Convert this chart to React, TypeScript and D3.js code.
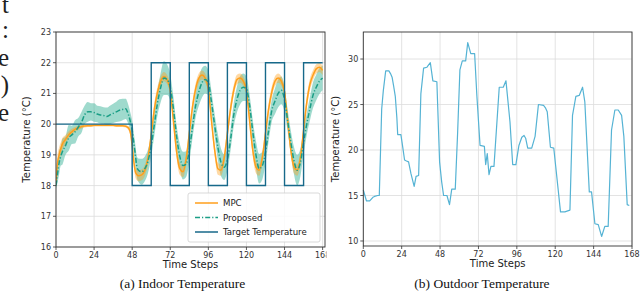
import React from 'react';
import * as d3 from 'd3';

// ---------- data ----------
const steps = [0,1,2,3,4,6,8,10,12,14,16,18,20,22,24,26,28,30,32,34,36,38,40,42,44,45,46,47,48,49,50,51,52,
  54,56,58,60,62,64,66,68,70,72,74,76,78,80,82,84,86,88,90,92,94,96,98,100,102,104,106,108,110,112,
  114,116,118,120,122,124,126,128,130,132,134,136,138,140,142,144,146,148,150,152,154,156,158,160,162,164,166,168];

const mpc = [18.05,18.75,19.0,19.2,19.35,19.5,19.65,19.75,19.83,19.88,19.92,19.94,19.95,19.95,19.96,19.96,19.96,19.96,19.96,19.96,19.96,19.95,19.95,19.95,19.93,19.9,19.85,19.7,19.3,18.8,18.45,18.35,18.32,
  18.35,18.5,18.9,19.65,20.5,21.05,21.4,21.55,21.45,21.1,
  20.1,19.1,18.55,18.45,18.85,19.7,20.55,21.15,21.5,21.6,
  21.5,21.15,20.1,19.15,18.55,18.5,18.9,19.7,20.5,21.1,
  21.45,21.5,21.4,21.1,20.1,19.15,18.6,18.5,18.9,19.7,
  20.5,21.05,21.4,21.5,21.4,21.05,20.1,19.15,18.6,18.5,
  18.9,19.8,20.7,21.3,21.6,21.8,21.85,21.75];

const mpcSpread = [0.05,0.25,0.25,0.2,0.2,0.15,0.12,0.1,0.08,0.07,0.06,0.05,0.04,0.04,0.04,0.04,0.04,0.04,0.04,0.04,0.04,0.04,0.04,0.04,0.04,0.05,0.08,0.12,0.15,0.18,0.18,0.18,0.18,
  0.18,0.18,0.2,0.2,0.2,0.18,0.16,0.15,0.15,0.16,
  0.18,0.2,0.2,0.18,0.2,0.2,0.2,0.18,0.16,0.15,
  0.15,0.16,0.18,0.2,0.2,0.18,0.2,0.2,0.2,0.18,
  0.16,0.15,0.15,0.16,0.18,0.2,0.2,0.18,0.2,0.2,
  0.2,0.18,0.16,0.15,0.15,0.16,0.18,0.2,0.2,0.18,
  0.2,0.2,0.2,0.18,0.16,0.15,0.15,0.15];

const proposed = [18.0,18.4,18.75,18.95,19.1,19.3,19.55,19.65,19.75,19.9,20.05,20.3,20.4,20.4,20.38,20.33,20.3,20.28,20.25,20.3,20.35,20.4,20.45,20.48,20.5,20.4,20.25,20.05,19.8,19.4,19.0,18.6,18.5,
  18.45,18.55,18.8,19.3,20.0,20.7,21.2,21.5,21.45,21.2,
  20.5,19.6,18.95,18.65,18.7,19.15,19.9,20.6,21.05,21.35,
  21.45,21.35,20.7,19.95,19.25,18.75,18.6,18.85,19.5,20.3,
  20.8,21.1,21.2,21.15,20.6,19.75,19.0,18.55,18.65,19.1,
  19.8,20.45,20.75,21.0,21.1,20.8,20.1,19.4,18.8,18.5,
  18.75,19.4,20.0,20.5,20.95,21.2,21.4,21.5];

const proposedSpread = [0.1,0.3,0.38,0.3,0.42,0.3,0.42,0.3,0.38,0.3,0.34,0.3,0.32,0.28,0.3,0.27,0.28,0.27,0.29,0.3,0.31,0.33,0.36,0.35,0.33,0.32,0.3,0.3,0.32,0.32,0.33,0.35,0.38,
  0.42,0.4,0.38,0.35,0.35,0.4,0.48,0.55,0.5,0.42,
  0.38,0.36,0.4,0.45,0.42,0.38,0.36,0.38,0.45,0.48,
  0.45,0.4,0.36,0.36,0.42,0.45,0.42,0.36,0.35,0.38,
  0.42,0.46,0.45,0.4,0.36,0.38,0.45,0.48,0.45,0.38,
  0.35,0.36,0.42,0.45,0.45,0.4,0.36,0.38,0.45,0.5,
  0.45,0.38,0.35,0.38,0.42,0.42,0.42,0.4];

// target setpoint: [start step, value]
const targetSteps = [0,48,60,72,84,96,108,120,132,144,156,168];
const targetValues = [20,18,22,18,22,18,22,18,22,18,22,22];

// outdoor temperature: [step, value]
const outdoor: [number, number][] = [
  [0,15.6],[1,15.0],[2,14.4],[4,14.4],[6,14.8],[7,14.9],[9,15.0],[10,15.0],[11.5,24.5],[12.5,26.5],[14,28.7],[16,28.7],[17,28.4],[18,28.0],[19,27.0],[20,25.9],[21,23.5],[21.5,21.7],[23.5,21.7],[24.5,20.5],[25.8,18.9],[27,18.8],[28.3,18.7],[29.8,17.4],[31.8,16.0],[33,17.1],[34.6,17.2],[36,26.2],[37.7,29.0],[39.8,29.1],[41.9,29.6],[43.5,27.6],[46,27.5],[47.7,18.7],[49,16.5],[50.2,15.0],[52.3,15.0],[53.9,14.0],[55.3,15.7],[57.5,15.7],[59,22],[60.4,28.8],[61.9,29.8],[64,29.8],[65.3,31.8],[67.2,30.6],[69.6,30.6],[71,26],[73,20.5],[75.7,20.4],[76.5,18.4],[77.5,19.6],[78.6,17.3],[79.8,18.2],[81.7,18.2],[85,26.9],[87.5,26.9],[89.2,27.6],[91.7,23.1],[93.4,18.4],[95.4,18.4],[97.3,20.5],[99.1,21.4],[100.5,21.6],[101.5,21.3],[102.8,20.2],[105.3,20.2],[107.4,21.5],[109.5,25],[112.7,24.9],[114,24.6],[115,24.2],[117,20.3],[119.1,20.2],[121.2,16.7],[123.3,13.2],[126,13.2],[129.2,13.4],[130.8,23.8],[132.9,25.9],[135,26],[137.1,26.9],[138.5,25.3],[141.3,15.4],[142.7,15.4],[144.8,11.9],[146.9,11.8],[149,10.5],[151,11.6],[153.1,11.6],[155.2,22.2],[157.3,24.4],[159.4,24.4],[161.5,23.8],[162.9,21.5],[165,14],[166.3,13.9]
];

const xTicks = [0,24,48,72,96,120,144,168];
const indoorYTicks = [16,17,18,19,20,21,22,23];
const outdoorYTicks = [10,15,20,25,30];
const legendLabels = ['MPC','Proposed','Target Temperature'];
const marginText = ['t', ':', 'e', ')', 'e'];

// ---------- styles ----------
const SANS = 'DejaVu Sans, sans-serif';
const SERIF = 'Liberation Serif, Times New Roman, serif';
const C_MPC = '#ff9f1c';
const C_PROP = '#1b9e86';
const C_PROP_BAND = '#3fb59c';
const C_TARGET = '#17698a';
const C_OUT = '#55b3d4';
const C_GRID = '#dcdcdc';
const C_TEXT = '#333';

function Axes({x, y, yTicks, xLabel, yLabel, yLabelX}: any) {
  const [x0, x1] = x.range();
  const [y0, y1] = y.range();
  return (
    <g>
      {xTicks.map(t => <line key={'gx'+t} x1={x(t)} x2={x(t)} y1={y1} y2={y0} stroke={C_GRID} strokeWidth={0.8} />)}
      {yTicks.map((t: number) => <line key={'gy'+t} x1={x0} x2={x1} y1={y(t)} y2={y(t)} stroke={C_GRID} strokeWidth={0.8} />)}
    </g>
  );
}

function Frame({x, y, yTicks, yLabelX}: any) {
  const [x0, x1] = x.range();
  const [y0, y1] = y.range();
  const cx = (x0 + x1) / 2;
  const cy = (y0 + y1) / 2;
  return (
    <g fontFamily={SANS} fill={C_TEXT}>
      <rect x={x0} y={y1} width={x1 - x0} height={y0 - y1} fill="none" stroke="#333" strokeWidth={0.9} />
      {xTicks.map(t => (
        <g key={'tx'+t}>
          <line x1={x(t)} x2={x(t)} y1={y0} y2={y0 + 3} stroke="#333" strokeWidth={0.8} />
          <text x={x(t)} y={y0 + 11} fontSize={8} textAnchor="middle">{t}</text>
        </g>
      ))}
      {yTicks.map((t: number) => (
        <g key={'ty'+t}>
          <line x1={x0 - 3} x2={x0} y1={y(t)} y2={y(t)} stroke="#333" strokeWidth={0.8} />
          <text x={x0 - 5} y={y(t) + 3} fontSize={8} textAnchor="end">{t}</text>
        </g>
      ))}
      <text x={cx} y={y0 + 21} fontSize={10} textAnchor="middle" fill="#222">Time Steps</text>
      <text transform={`translate(${yLabelX},${cy}) rotate(-90)`} fontSize={10} textAnchor="middle" fill="#222">Temperature (°C)</text>
    </g>
  );
}

export default function App() {
  const W = 640, H = 292;
  // left panel
  const xL = d3.scaleLinear().domain([0, 169.5]).range([56, 325]);
  const yL = d3.scaleLinear().domain([16, 23]).range([247, 32]);
  // right panel
  const xR = d3.scaleLinear().domain([0, 168]).range([363.3, 632]);
  const yR = d3.scaleLinear().domain([9.45, 32.97]).range([246, 32]);

  const idx = steps.map((_, i) => i);
  const bandMpc = d3.area<number>().x(i => xL(steps[i])).y0(i => yL(mpc[i] - mpcSpread[i])).y1(i => yL(mpc[i] + mpcSpread[i])).curve(d3.curveMonotoneX);
  const bandProp = d3.area<number>().x(i => xL(steps[i])).y0(i => yL(proposed[i] - proposedSpread[i])).y1(i => yL(proposed[i] + proposedSpread[i])).curve(d3.curveMonotoneX);
  const lineMpc = d3.line<number>().x(i => xL(steps[i])).y(i => yL(mpc[i])).curve(d3.curveMonotoneX);
  const lineProp = d3.line<number>().x(i => xL(steps[i])).y(i => yL(proposed[i])).curve(d3.curveMonotoneX);
  const targetPts: [number, number][] = targetSteps.map((s, i) => [s, targetValues[i]]);
  const lineTarget = d3.line<[number, number]>().x(d => xL(d[0])).y(d => yL(d[1])).curve(d3.curveStepAfter);
  const lineOut = d3.line<[number, number]>().x(d => xR(d[0])).y(d => yR(d[1]));

  const legX = 188, legY = 193;
  return (
    <svg width={W} height={H} style={{position: 'absolute', left: 0, top: 0, background: '#fff'}}>
      <defs>
        <clipPath id="leftPanel"><rect x={0} y={0} width={326.5} height={H} /></clipPath>
        <clipPath id="plotL"><rect x={56} y={32} width={269} height={215} /></clipPath>
      </defs>
      {/* cropped text of the page on the left */}
      <g fontFamily={SERIF} fontSize={25} fill="#222">
        {marginText.map((s, i) => (
          <text key={i} x={9} y={[13, 38, 66, 93, 121][i]} textAnchor="end">{s}</text>
        ))}
      </g>

      {/* left panel */}
      <g clipPath="url(#leftPanel)">
        <Axes x={xL} y={yL} yTicks={indoorYTicks} />
        <g clipPath="url(#plotL)">
          <path d={bandProp(idx) || ''} fill={C_PROP_BAND} opacity={0.5} />
          <path d={bandMpc(idx) || ''} fill={C_MPC} opacity={0.4} />
          <path d={lineMpc(idx) || ''} fill="none" stroke={C_MPC} strokeWidth={1.5} />
          <path d={lineProp(idx) || ''} fill="none" stroke={C_PROP} strokeWidth={1.5} strokeDasharray="5,2,1.2,2" />
          <path d={lineTarget(targetPts) || ''} fill="none" stroke={C_TARGET} strokeWidth={1.4} />
        </g>
        <Frame x={xL} y={yL} yTicks={indoorYTicks} yLabelX={30} />
        {/* legend */}
        <g fontFamily={SANS} fontSize={8.6} fill="#222">
          <rect x={legX} y={legY} width={132} height={49} rx={2} fill="#fff" fillOpacity={0.85} stroke="#cfcfcf" strokeWidth={0.8} />
          {legendLabels.map((lab, i) => {
            const yy = legY + 10 + i * 14.5;
            const stroke = i === 0 ? C_MPC : i === 1 ? C_PROP : C_TARGET;
            return (
              <g key={lab}>
                <line x1={legX + 7} x2={legX + 30} y1={yy} y2={yy} stroke={stroke} strokeWidth={1.5}
                  strokeDasharray={i === 1 ? '5,2,1.2,2' : undefined} />
                <text x={legX + 35} y={yy + 3}>{lab}</text>
              </g>
            );
          })}
        </g>
      </g>

      {/* right panel */}
      <Axes x={xR} y={yR} yTicks={outdoorYTicks} />
      <path d={lineOut(outdoor) || ''} fill="none" stroke={C_OUT} strokeWidth={1.2} strokeLinejoin="round" />
      <Frame x={xR} y={yR} yTicks={outdoorYTicks} yLabelX={339} />

      {/* captions */}
      <g fontFamily={SERIF} fontSize={13.5} fill="#111" textAnchor="middle">
        <text x={182.5} y={288}>(a) Indoor Temperature</text>
        <text x={482} y={288}>(b) Outdoor Temperature</text>
      </g>
    </svg>
  );
}
